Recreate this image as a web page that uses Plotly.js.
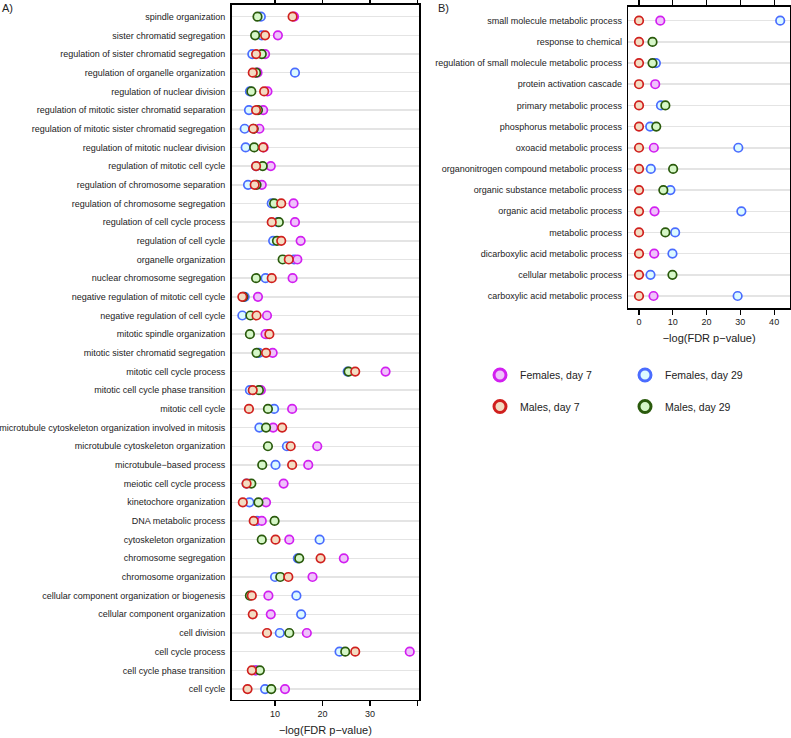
<!DOCTYPE html>
<html>
<head>
<meta charset="utf-8">
<script src="https://cdn.plot.ly/plotly-3.0.1.min.js"></script>
<style>html,body{margin:0;padding:0;background:#fff;}#chart{width:791px;height:738px;}</style>
</head>
<body>
<div id="chart"></div>
<script>
// ---------- Panel A (top to bottom) ----------
const termsA = [
  "spindle organization",
  "sister chromatid segregation",
  "regulation of sister chromatid segregation",
  "regulation of organelle organization",
  "regulation of nuclear division",
  "regulation of mitotic sister chromatid separation",
  "regulation of mitotic sister chromatid segregation",
  "regulation of mitotic nuclear division",
  "regulation of mitotic cell cycle",
  "regulation of chromosome separation",
  "regulation of chromosome segregation",
  "regulation of cell cycle process",
  "regulation of cell cycle",
  "organelle organization",
  "nuclear chromosome segregation",
  "negative regulation of mitotic cell cycle",
  "negative regulation of cell cycle",
  "mitotic spindle organization",
  "mitotic sister chromatid segregation",
  "mitotic cell cycle process",
  "mitotic cell cycle phase transition",
  "mitotic cell cycle",
  "microtubule cytoskeleton organization involved in mitosis",
  "microtubule cytoskeleton organization",
  "microtubule\u2212based process",
  "meiotic cell cycle process",
  "kinetochore organization",
  "DNA metabolic process",
  "cytoskeleton organization",
  "chromosome segregation",
  "chromosome organization",
  "cellular component organization or biogenesis",
  "cellular component organization",
  "cell division",
  "cell cycle process",
  "cell cycle phase transition",
  "cell cycle"
];
const femalesDay7A  = [14.0,10.6,7.9,6.3,8.4,7.5,6.7,7.6,9.1,7.2,13.9,14.2,15.4,14.7,13.7,6.4,8.3,8.0,9.5,33.3,7.0,13.6,9.6,18.9,17.0,11.8,8.1,7.2,13.0,24.5,17.9,8.6,9.1,16.7,38.4,6.0,12.1];
const femalesDay29A = [7.0,7.2,5.2,14.2,4.7,4.5,3.6,3.8,6.0,4.3,9.3,10.6,9.6,14.0,8.0,3.6,3.1,8.3,6.6,25.3,4.7,9.8,6.7,12.5,10.1,4.0,4.6,6.2,19.4,14.8,10.0,14.5,15.5,11.0,23.6,5.8,7.9];
const malesDay7A    = [13.7,7.9,6.0,5.3,7.7,6.0,5.4,7.5,6.0,5.7,11.3,9.3,11.3,12.9,9.3,3.1,6.1,8.8,8.1,26.9,5.3,4.5,11.5,13.3,13.6,4.0,3.2,5.5,10.1,19.6,12.8,5.1,5.3,8.3,26.9,5.1,4.2];
const malesDay29A   = [6.3,5.8,7.2,6.0,5.0,6.4,5.5,5.6,7.4,6.1,9.8,10.8,10.4,11.6,6.0,3.3,4.8,4.7,6.1,25.5,6.6,8.5,8.1,8.5,7.3,5.0,6.5,9.9,7.2,15.1,11.1,4.7,null,13.0,24.8,6.8,9.2];

// ---------- Panel B (top to bottom) ----------
const termsB = [
  "small molecule metabolic process",
  "response to chemical",
  "regulation of small molecule metabolic process",
  "protein activation cascade",
  "primary metabolic process",
  "phosphorus metabolic process",
  "oxoacid metabolic process",
  "organonitrogen compound metabolic process",
  "organic substance metabolic process",
  "organic acid metabolic process",
  "metabolic process",
  "dicarboxylic acid metabolic process",
  "cellular metabolic process",
  "carboxylic acid metabolic process"
];
const femalesDay7B  = [6.3,null,null,4.8,null,null,4.4,null,null,4.6,null,4.5,null,4.3];
const femalesDay29B = [41.8,null,5.0,null,6.5,3.3,29.4,3.5,9.3,30.3,10.7,9.9,3.4,29.2];
const malesDay7B    = [0,0,0,0,0,0,0,0,0,0,0,0,0,0];
const malesDay29B   = [null,4.0,4.0,null,7.8,5.1,null,10.1,7.2,null,7.8,null,9.9,null];

// ---------- axis ticks ----------
const tickValsA = [10,20,30,40];
const tickTextA = ["10","20","30",""];
const tickValsB = [0,10,20,30,40];
const tickTextB = ["0","10","20","30","40"];
const axisTitle = "\u2212log(FDR p\u2212value)";

// ---------- series styles ----------
const series = [
  {name:"Females, day 29", A:femalesDay29A, B:femalesDay29B, line:"#4a6cff", fill:"#dcfaff", legend:"legend",  rank:2},
  {name:"Females, day 7",  A:femalesDay7A,  B:femalesDay7B,  line:"#d21ff0", fill:"#efc2fb", legend:"legend",  rank:1},
  {name:"Males, day 29",   A:malesDay29A,   B:malesDay29B,   line:"#2a5a0c", fill:"#d6f7c8", legend:"legend2", rank:4},
  {name:"Males, day 7",    A:malesDay7A,    B:malesDay7B,    line:"#d0201e", fill:"#f3dcc2", legend:"legend2", rank:3}
];

const traces = [];
series.forEach(s => {
  traces.push({
    type:"scatter", mode:"markers", x:s.A, y:termsA, xaxis:"x", yaxis:"y",
    name:s.name, showlegend:false, cliponaxis:true,
    marker:{symbol:"circle", size:8.5, color:s.fill, line:{color:s.line, width:1.7}},
    hoverinfo:"x+y+name"
  });
  traces.push({
    type:"scatter", mode:"markers", x:s.B, y:termsB, xaxis:"x2", yaxis:"y2",
    name:s.name, showlegend:false, cliponaxis:true,
    marker:{symbol:"circle", size:8.5, color:s.fill, line:{color:s.line, width:1.7}},
    hoverinfo:"x+y+name"
  });
});
// legend entries
series.forEach(s => {
  traces.push({
    type:"scatter", mode:"markers", x:[null], y:[null], xaxis:"x2", yaxis:"y2",
    name:s.name, showlegend:true, legend:s.legend, legendrank:s.rank,
    marker:{symbol:"circle", size:12, color:s.fill, line:{color:s.line, width:3}}
  });
});

const W = 791, H = 738;
const txt = "#222222";
const font = {family:"Liberation Sans, Arial, sans-serif", color:txt};

const layout = {
  width:W, height:H,
  margin:{l:0,r:0,t:0,b:0, autoexpand:false},
  paper_bgcolor:"#ffffff", plot_bgcolor:"#ffffff",
  font:{family:font.family, color:txt, size:9},
  showlegend:true,
  xaxis:{
    domain:[231.7/W, 419/W], range:[0.86, 40.35], anchor:"y", automargin:false,
    tickmode:"array", tickvals:tickValsA, ticktext:tickTextA,
    ticks:"outside", ticklen:5, tickwidth:1.2, tickcolor:"#000",
    showline:true, linecolor:"#000", linewidth:1.6, mirror:"ticks",
    showgrid:false, zeroline:false,
    tickfont:{size:9, color:txt, family:font.family},
    title:{text:axisTitle, font:{size:11, color:txt, family:font.family}, standoff:8}
  },
  yaxis:{
    domain:[(H-699.5)/H, (H-5)/H], anchor:"x", automargin:false,
    type:"category", categoryorder:"array", categoryarray:termsA,
    range:[termsA.length-1+0.56, -0.626],
    ticks:"", showline:true, linecolor:"#000", linewidth:1.6, mirror:true,
    showgrid:true, gridcolor:"#e4e4e4", gridwidth:1.5, zeroline:false,
    ticklabelstandoff:3,
    tickfont:{size:9, color:txt, family:font.family}
  },
  xaxis2:{
    domain:[628.3/W, 790/W], range:[-3.17, 44.7], anchor:"y2", automargin:false,
    tickmode:"array", tickvals:tickValsB, ticktext:tickTextB,
    ticks:"outside", ticklen:5, tickwidth:1.2, tickcolor:"#000",
    showline:true, linecolor:"#000", linewidth:1.6, mirror:"ticks",
    showgrid:false, zeroline:false,
    tickfont:{size:9, color:txt, family:font.family},
    title:{text:axisTitle, font:{size:11, color:txt, family:font.family}, standoff:8}
  },
  yaxis2:{
    domain:[(H-308)/H, (H-7)/H], anchor:"x2", automargin:false,
    type:"category", categoryorder:"array", categoryarray:termsB,
    range:[termsB.length-1+0.567, -0.647],
    ticks:"", showline:true, linecolor:"#000", linewidth:1.6, mirror:true,
    showgrid:true, gridcolor:"#e4e4e4", gridwidth:1.5, zeroline:false,
    ticklabelstandoff:3,
    tickfont:{size:9, color:txt, family:font.family}
  },
  legend:{
    orientation:"h", x:480/W, xanchor:"left", y:(H-375)/H, yanchor:"middle",
    entrywidth:100, entrywidthmode:"pixels", traceorder:"normal",
    font:{size:10.5, color:txt, family:font.family}, bgcolor:"rgba(0,0,0,0)", itemsizing:"trace"
  },
  legend2:{
    orientation:"h", x:480/W, xanchor:"left", y:(H-406.5)/H, yanchor:"middle",
    entrywidth:100, entrywidthmode:"pixels", traceorder:"normal",
    font:{size:10.5, color:txt, family:font.family}, bgcolor:"rgba(0,0,0,0)", itemsizing:"trace"
  },
  annotations:[
    {text:"A)", x:0, y:1-8/H, xref:"paper", yref:"paper", xanchor:"left", yanchor:"middle", showarrow:false, font:{size:11, color:txt, family:font.family}},
    {text:"B)", x:436/W, y:1-8/H, xref:"paper", yref:"paper", xanchor:"left", yanchor:"middle", showarrow:false, font:{size:11, color:txt, family:font.family}}
  ]
};

Plotly.newPlot("chart", traces, layout, {displayModeBar:false, staticPlot:true});
</script>
</body>
</html>
